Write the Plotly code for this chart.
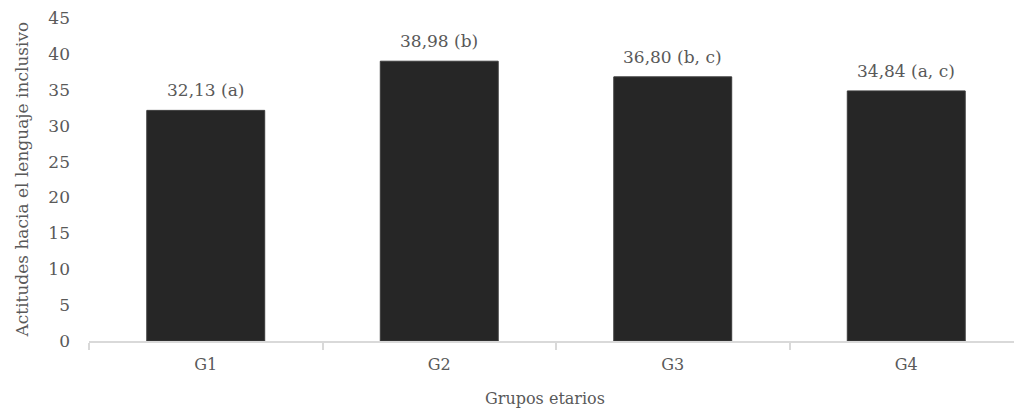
import plotly.graph_objects as go

categories = ["G1", "G2", "G3", "G4"]
values = [32.13, 38.98, 36.80, 34.84]
labels = ["32,13 (a)", "38,98 (b)", "36,80 (b, c)", "34,84 (a, c)"]
y_ticks = [0, 5, 10, 15, 20, 25, 30, 35, 40, 45]

FONT = "DejaVu Serif"
TXT = "#595959"

fig = go.Figure()
fig.add_trace(go.Bar(
    x=categories, y=values,
    marker=dict(color="#262626", line=dict(color="#3a3a3a", width=1)),
    width=0.505,
    hoverinfo="skip",
))

for c, v, t in zip(categories, values, labels):
    fig.add_annotation(x=c, y=v, text=t, showarrow=False, yanchor="bottom",
                       yshift=8, font=dict(family=FONT, size=17, color=TXT))

L, R, T, B = 89, 0, 18, 70
plot_w = 1014 - L - R

fig.add_annotation(x=(21 - L) / plot_w, y=0.5, xref="paper", yref="paper",
                   text="Actitudes hacia el lenguaje inclusivo", textangle=-90,
                   showarrow=False, xanchor="center", yanchor="middle",
                   font=dict(family=FONT, size=17, color=TXT))
fig.add_annotation(x=(545 - L) / plot_w, y=0, xref="paper", yref="paper",
                   yshift=-57, text="Grupos etarios", showarrow=False,
                   xanchor="center", yanchor="middle",
                   font=dict(family=FONT, size=16, color=TXT))

fig.update_layout(
    width=1014, height=411,
    margin=dict(l=L, r=R, t=T, b=B),
    paper_bgcolor="white", plot_bgcolor="white",
    showlegend=False,
    font=dict(family=FONT, size=17, color=TXT),
    xaxis=dict(
        range=[-0.5, -0.5 + plot_w / 233.5],
        showline=True, linecolor="#d9d9d9", linewidth=2,
        ticks="outside", tickson="boundaries", ticklen=7, tickwidth=2,
        tickcolor="#d9d9d9", showgrid=False, zeroline=False,
        tickfont=dict(family=FONT, size=16, color=TXT),
        ticklabelstandoff=8,
    ),
    yaxis=dict(
        range=[0, 45], tickvals=y_ticks, showgrid=False, zeroline=False,
        showline=False, ticks="", ticklabelstandoff=18,
        tickfont=dict(family=FONT, size=17, color=TXT),
    ),
)

fig.write_html("out.html", config={"displayModeBar": False},
               post_script="document.body.style.margin='0';document.body.style.overflow='hidden';")
